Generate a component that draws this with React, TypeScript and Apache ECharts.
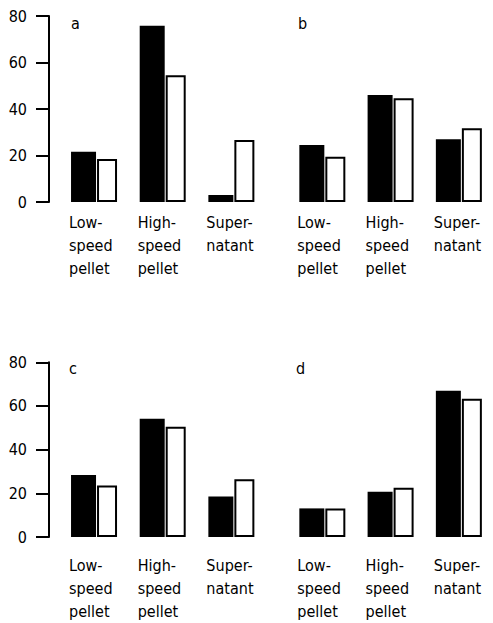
import React, { useEffect, useRef } from "react";
import * as echarts from "echarts";

const categories = ["Low-\nspeed\npellet", "High-\nspeed\npellet", "Super-\nnatant"];
const panelLetters = ["a", "b", "c", "d"];
const yTicks = [0, 20, 40, 60, 80];

const blackA = [21.6, 75.8, 3];
const whiteA = [18.5, 54.5, 26.7];
const blackB = [24.5, 46, 27];
const whiteB = [19.5, 44.6, 31.7];
const blackC = [28.4, 54.1, 18.5];
const whiteC = [23.6, 50.5, 26.5];
const blackD = [13.1, 20.7, 67];
const whiteD = [13.1, 22.6, 63.3];

const FONT = "'Liberation Sans Narrow', 'DejaVu Sans Condensed', sans-serif";

export default function App() {
  const ref = useRef<HTMLDivElement>(null);
  useEffect(() => {
    if (!ref.current) return;
    const chart = echarts.init(ref.current, undefined, { renderer: "svg" });
    const blacks = [blackA, blackB, blackC, blackD];
    const whites = [whiteA, whiteB, whiteC, whiteD];
    const grids = [
      { left: 59.7, top: 16, width: 206, height: 186 },
      { left: 288.2, top: 16, width: 206, height: 186 },
      { left: 59.7, top: 362.3, width: 206, height: 183.4 },
      { left: 288.2, top: 362.3, width: 206, height: 183.4 },
    ];
    const titlePos = [
      { left: 71, top: 15 },
      { left: 298, top: 15 },
      { left: 69, top: 360 },
      { left: 296, top: 360 },
    ];
    const labelMargins = [9, 9, 17, 17];
    const option: any = {
      animation: false,
      backgroundColor: "#ffffff",
      title: panelLetters.map((t, i) => ({
        text: t,
        left: titlePos[i].left,
        top: titlePos[i].top,
        padding: 0,
        textStyle: { fontFamily: FONT, fontSize: 16, fontWeight: "normal", color: "#000" },
      })),
      grid: grids,
      xAxis: grids.map((_, i) => ({
        type: "category",
        gridIndex: i,
        data: categories,
        axisLine: { show: false },
        axisTick: { show: false },
        axisLabel: {
          interval: 0,
          align: "left",
          margin: labelMargins[i],
          padding: [0, 0, 0, -25],
          lineHeight: 23,
          fontFamily: FONT,
          fontSize: 16,
          color: "#000",
        },
      })),
      yAxis: grids.map((_, i) => ({
        type: "value",
        gridIndex: i,
        min: 0,
        max: 80,
        interval: 20,
        show: i % 2 === 0,
        offset: 10.7,
        splitLine: { show: false },
        axisLine: { show: true, lineStyle: { color: "#000", width: 2 } },
        axisTick: { show: true, length: 13, lineStyle: { color: "#000", width: 2 } },
        axisLabel: {
          margin: 22,
          fontFamily: FONT,
          fontSize: 16,
          color: "#000",
          formatter: (v: number) => (yTicks.includes(v) ? String(v) : ""),
        },
      })),
      series: grids.flatMap((_, i) => [
        {
          type: "bar",
          xAxisIndex: i,
          yAxisIndex: i,
          data: blacks[i],
          barWidth: 25,
          itemStyle: { color: "#000" },
        },
        {
          type: "bar",
          xAxisIndex: i,
          yAxisIndex: i,
          data: whites[i],
          barWidth: 20,
          barGap: "4%",
          itemStyle: { color: "#fff", borderColor: "#000", borderWidth: 2 },
        },
      ]),
    };
    chart.setOption(option);
    return () => chart.dispose();
  }, []);
  return (
    <div
      ref={ref}
      style={{ position: "absolute", left: 0, top: 0, width: 493, height: 623 }}
    />
  );
}
